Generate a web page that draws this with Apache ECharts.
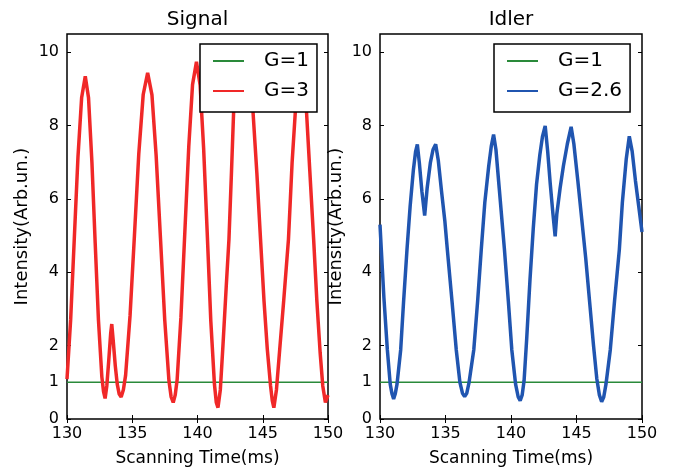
<!DOCTYPE html>
<html>
<head>
<meta charset="utf-8">
<script src="https://cdn.jsdelivr.net/npm/echarts@6/dist/echarts.min.js"></script>
<style>
html,body{margin:0;padding:0;background:#fff;}
#chart{width:684px;height:468px;}
</style>
</head>
<body>
<div id="chart"></div>
<script>
// ---- data ----
const panelTitles = ['Signal', 'Idler'];
const xTicks = [130, 135, 140, 145, 150];
const yTicks = [0, 1, 2, 4, 6, 8, 10];
const seriesNames = ['G=1', 'G=3', 'G=2.6'];
const baseLine = [[130, 1], [150, 1]];   // G=1 reference level
// Signal, G=3: [time (ms), intensity]
const signalPoints = [
  [130.0,1.09],[130.28,2.71],[130.56,4.93],[130.84,7.14],[131.12,8.76],[131.4,9.35],
  [131.65,8.76],[131.91,7.0],[132.16,4.8],[132.41,2.7],[132.67,1.15],[132.8,0.75],[132.92,0.56],
  [133.05,0.9],[133.2,1.6],[133.35,2.35],[133.43,2.59],[133.55,2.1],[133.7,1.45],[133.85,0.95],[134.0,0.68],[134.15,0.6],
  [134.32,0.8],[134.49,1.19],[134.83,2.81],[135.17,5.02],[135.5,7.23],[135.84,8.85],[136.18,9.44],
  [136.51,8.84],[136.83,7.19],[137.16,4.95],[137.49,2.7],[137.81,1.05],[137.98,0.6],[138.14,0.45],
  [138.29,0.65],[138.44,1.07],[138.73,2.77],[139.03,5.1],[139.33,7.42],[139.62,9.12],[139.92,9.74],
  [140.2,9.11],[140.47,7.38],[140.75,5.03],[141.02,2.67],[141.3,0.94],[141.44,0.45],[141.57,0.31],
  [141.75,0.8],[141.95,2.0],[142.2,3.6],[142.41,4.9],[142.6,6.7],[142.77,8.4],[143.0,9.4],[143.3,9.95],[143.5,10.0],
  [143.75,9.8],[144.0,9.2],[144.25,8.4],[144.55,6.7],[144.83,4.9],[145.1,3.2],[145.35,1.9],[145.6,0.9],[145.73,0.5],[145.85,0.31],
  [146.05,0.8],[146.3,1.9],[146.6,3.2],[146.97,4.9],[147.25,7.0],[147.5,8.4],[147.7,9.3],[147.95,9.8],
  [148.15,9.4],[148.35,8.4],[148.6,6.8],[148.9,4.9],[149.15,3.2],[149.4,1.8],[149.6,0.9],[149.8,0.45],[150.0,0.65]
];
// Idler, G=2.6: [time (ms), intensity]
const idlerPoints = [
  [130.0,5.3],[130.1,4.62],[130.3,3.3],[130.56,1.89],[130.78,0.95],[130.92,0.68],[131.04,0.55],[131.16,0.68],[131.3,0.95],
  [131.58,1.89],[131.8,3.2],[132.06,4.62],[132.3,5.8],[132.55,6.8],[132.72,7.3],[132.85,7.49],
  [133.0,7.0],[133.2,6.2],[133.41,5.55],[133.6,6.3],[133.85,7.0],[134.05,7.35],[134.25,7.49],
  [134.45,7.05],[134.7,6.2],[134.95,5.4],[135.14,4.62],[135.5,3.2],[135.82,1.89],[136.1,1.0],[136.3,0.7],[136.46,0.61],
  [136.62,0.7],[136.8,1.0],[137.16,1.89],[137.45,3.2],[137.73,4.62],[138.0,5.9],[138.3,6.9],[138.5,7.45],[138.67,7.76],
  [138.85,7.35],[139.1,6.3],[139.5,4.62],[139.8,3.2],[140.06,1.89],[140.35,0.95],[140.55,0.6],[140.7,0.5],
  [140.85,0.65],[141.0,1.05],[141.2,2.2],[141.45,3.8],[141.7,5.2],[141.95,6.4],[142.2,7.2],[142.4,7.7],[142.61,7.99],
  [142.8,7.3],[143.0,6.4],[143.2,5.6],[143.37,4.98],[143.5,5.6],[143.75,6.3],[144.0,6.9],[144.3,7.5],[144.59,7.97],
  [144.8,7.5],[145.1,6.5],[145.4,5.45],[145.7,4.4],[146.0,3.2],[146.3,2.0],[146.55,1.1],[146.75,0.65],[146.92,0.47],
  [147.08,0.6],[147.25,0.95],[147.58,1.89],[147.9,3.2],[148.27,4.62],[148.5,5.9],[148.8,7.1],[149.03,7.71],
  [149.25,7.3],[149.5,6.5],[149.75,5.8],[150.0,5.1]
];

// ---- build ----
const FONT = 'DejaVu Sans';
const grids = [
  {left: 67, top: 34, width: 261, height: 385},
  {left: 380, top: 34, width: 262, height: 385}
];
const gridOpts = grids.map(g => Object.assign({
  show: true, borderColor: '#000', borderWidth: 1.5, backgroundColor: 'transparent',
  containLabel: false, outerBoundsMode: 'none'
}, g));

const tickStyle = {show: true, inside: true, length: 4, lineStyle: {color: '#000', width: 1}};
const xAxes = [], yAxes = [];
[0, 1].forEach(i => {
  xAxes.push({
    type: 'value', gridIndex: i, min: 130, max: 150, interval: 5, position: 'bottom',
    name: 'Scanning Time(ms)', nameLocation: 'middle', nameGap: 31,
    nameTextStyle: {fontFamily: FONT, fontSize: 17, color: '#000'},
    axisLine: {show: false}, splitLine: {show: false},
    axisTick: Object.assign({customValues: xTicks}, tickStyle),
    axisLabel: {show: true, margin: 7, fontFamily: FONT, fontSize: 16, color: '#000', customValues: xTicks}
  });
  xAxes.push({
    type: 'value', gridIndex: i, min: 130, max: 150, interval: 5, position: 'top',
    axisLine: {show: false}, splitLine: {show: false}, axisLabel: {show: false},
    axisTick: Object.assign({customValues: xTicks}, tickStyle)
  });
  yAxes.push({
    type: 'value', gridIndex: i, min: 0, max: 10.5, position: 'left',
    name: 'Intensity(Arb.un.)', nameLocation: 'middle', nameGap: i === 0 ? 36 : 35,
    nameTextStyle: {fontFamily: FONT, fontSize: 18, color: '#000'},
    axisLine: {show: false}, splitLine: {show: false},
    axisTick: Object.assign({customValues: yTicks}, tickStyle),
    axisLabel: {show: true, margin: 8, fontFamily: FONT, fontSize: 16, color: '#000', customValues: yTicks}
  });
  yAxes.push({
    type: 'value', gridIndex: i, min: 0, max: 10.5, position: 'right',
    axisLine: {show: false}, splitLine: {show: false}, axisLabel: {show: false},
    axisTick: Object.assign({customValues: yTicks}, tickStyle)
  });
});

const GREEN = '#2a8a3a', RED = '#f02828', BLUE = '#2055b0';
const mk = (name, xi, data, color, width) => ({
  name, type: 'line', xAxisIndex: xi, yAxisIndex: xi, symbol: 'none', data,
  lineStyle: {color, width}, itemStyle: {color}
});
const series = [
  mk(seriesNames[0], 0, baseLine, GREEN, 1.5),
  mk(seriesNames[1], 0, signalPoints, RED, 3.5),
  mk(seriesNames[0], 2, baseLine, GREEN, 1.5),
  mk(seriesNames[2], 2, idlerPoints, BLUE, 3.5)
];

const legendBase = {
  orient: 'vertical', top: 44, icon: 'rect', itemWidth: 31, itemHeight: 2, itemGap: 10,
  backgroundColor: '#fff', borderColor: '#000', borderWidth: 1.5, borderRadius: 0,
  padding: [7, 8, 11, 13], selectedMode: false,
  textStyle: {fontFamily: FONT, fontSize: 20, color: '#000', lineHeight: 20, padding: [0, 0, 0, 15]}
};
const legends = [
  Object.assign({}, legendBase, {left: 200, data: [seriesNames[0], seriesNames[1]]}),
  Object.assign({}, legendBase, {left: 494, data: [seriesNames[0], seriesNames[2]]})
];

const titles = panelTitles.map((t, i) => ({
  text: t, left: grids[i].left + grids[i].width / 2, top: 10, textAlign: 'center', padding: 0,
  textStyle: {fontFamily: FONT, fontSize: 20, fontWeight: 'normal', color: '#000'}
}));

const chart = echarts.init(document.getElementById('chart'), null, {renderer: 'canvas'});
chart.setOption({
  animation: false,
  backgroundColor: '#fff',
  title: titles,
  legend: legends,
  grid: gridOpts,
  xAxis: xAxes,
  yAxis: yAxes,
  series: series
});
</script>
</body>
</html>
